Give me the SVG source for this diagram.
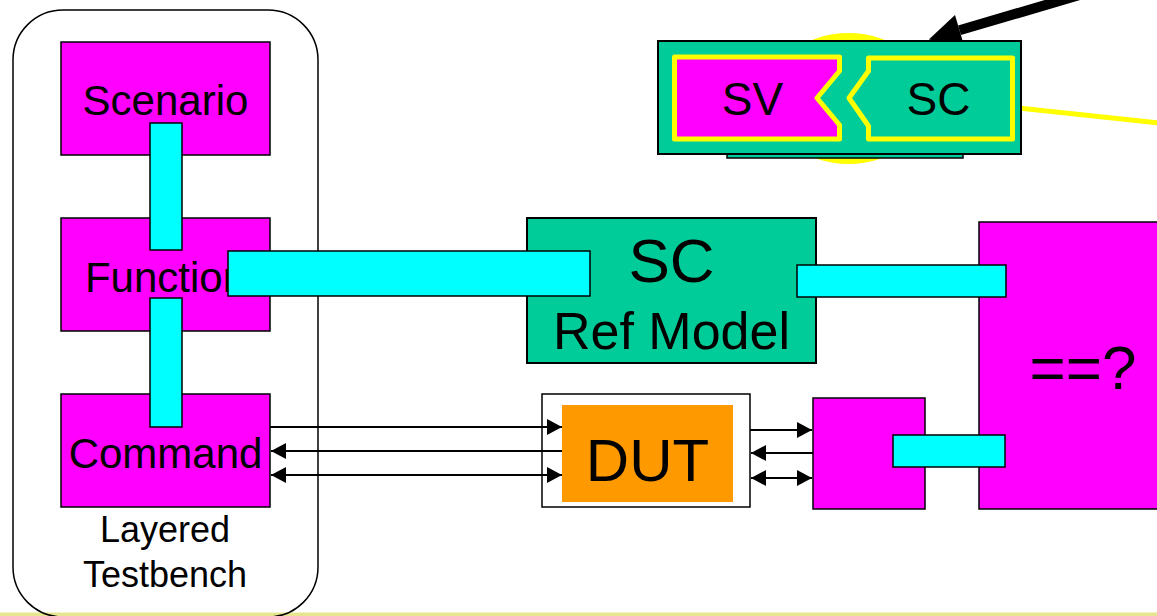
<svg xmlns="http://www.w3.org/2000/svg" width="1157" height="616" viewBox="0 0 1157 616">
  <style>
    .mag { fill: #FF00FF; stroke: #000; stroke-width: 1.5; }
    .teal { fill: #00CC99; stroke: #000; stroke-width: 2; }
    .bar { fill: #00FFFF; stroke: #000; stroke-width: 1.5; }
    .wire { stroke: #000; stroke-width: 2; fill: none; }
    .ylw { fill: none; stroke: #FFFF00; stroke-width: 5; stroke-linejoin: round; }
    text { font-family: "Liberation Sans", Arial, sans-serif; fill: #000; text-anchor: middle; }
  </style>
  <defs>
    <marker id="ah" viewBox="0 0 15 16" refX="15" refY="8" markerWidth="15" markerHeight="16" markerUnits="userSpaceOnUse" orient="auto-start-reverse">
      <path d="M0,0 L15,8 L0,16 Z" fill="#000"/>
    </marker>
  </defs>
  <rect width="1157" height="616" fill="#fff"/>
  <rect x="0" y="612.5" width="1157" height="4" fill="#E6E690"/>

  <g id="layered-testbench">
    <rect x="13" y="10" width="305" height="607" rx="50" ry="50" fill="none" stroke="#000" stroke-width="1.5"/>
    <text x="165" y="541.5" font-size="36">Layered</text>
    <text x="165" y="586.5" font-size="36">Testbench</text>
  </g>

  <g id="scenario">
    <rect class="mag" x="61" y="42" width="209" height="113"/>
    <text x="165.5" y="115" font-size="42">Scenario</text>
  </g>
  <g id="function">
    <rect class="mag" x="61" y="218" width="209" height="113"/>
    <text x="165.5" y="291.5" font-size="42">Function</text>
  </g>
  <g id="command">
    <rect class="mag" x="61" y="394" width="209" height="113"/>
    <text x="165.5" y="467.5" font-size="42">Command</text>
  </g>

  <g id="sc-ref-model">
    <rect class="teal" x="527" y="218" width="289" height="145"/>
    <text x="671.5" y="282" font-size="62">SC</text>
    <text x="671.5" y="349" font-size="52">Ref Model</text>
  </g>

  <g id="dut">
    <rect x="542" y="394" width="208" height="113" fill="#fff" stroke="#000" stroke-width="1.5"/>
    <rect x="562" y="405" width="171" height="97" fill="#FF9900"/>
    <text x="647.5" y="481" font-size="60">DUT</text>
  </g>

  <g id="monitor">
    <rect class="mag" x="813" y="398" width="112" height="111"/>
  </g>

  <g id="compare">
    <rect class="mag" x="979" y="222" width="200" height="287"/>
    <text x="1083" y="389" font-size="62">==?</text>
  </g>

  <g id="sv-sc">
    <ellipse cx="848.5" cy="98.5" rx="81" ry="65.5" fill="#FFFF00"/>
    <line x1="990" y1="105" x2="1160" y2="123" stroke="#FFFF00" stroke-width="5"/>
    <line x1="1110" y1="-14" x2="959.5" y2="30.3" stroke="#000" stroke-width="10"/>
    <polygon points="928.8,39.4 955,15 964,45.6" fill="#000"/>
    <rect x="727" y="150" width="236" height="8" fill="#00CC99" stroke="#000" stroke-width="1.5"/>
    <rect class="teal" x="658" y="41" width="363" height="113"/>
    <polygon points="674.5,57 839.5,57 839.5,71 817,98 839.5,125 839.5,139 674.5,139" fill="#FF00FF"/>
    <polygon class="ylw" points="674.5,57 839.5,57 839.5,71 817,98 839.5,125 839.5,139 674.5,139"/>
    <polygon class="ylw" points="868.5,58 1012.5,58 1012.5,139 868.5,139 868.5,126 849,98 868.5,71"/>
    <text x="752.5" y="115" font-size="46">SV</text>
    <text x="938.5" y="115" font-size="46">SC</text>
  </g>

  <g id="connectors">
    <rect class="bar" x="150" y="123" width="32" height="127"/>
    <rect class="bar" x="150" y="298" width="32" height="129"/>
    <rect class="bar" x="228" y="251" width="362" height="45"/>
    <rect class="bar" x="797" y="265" width="209" height="32"/>
    <rect class="bar" x="893" y="435" width="112" height="32"/>
    <line class="wire" x1="270" y1="427" x2="562" y2="427" marker-end="url(#ah)"/>
    <line class="wire" x1="562" y1="451" x2="271" y2="451" marker-end="url(#ah)"/>
    <line class="wire" x1="271" y1="475" x2="562" y2="475" marker-start="url(#ah)" marker-end="url(#ah)"/>
    <line class="wire" x1="750" y1="430" x2="812" y2="430" marker-end="url(#ah)"/>
    <line class="wire" x1="813" y1="453" x2="751" y2="453" marker-end="url(#ah)"/>
    <line class="wire" x1="751" y1="478" x2="812" y2="478" marker-start="url(#ah)" marker-end="url(#ah)"/>
  </g>
</svg>
